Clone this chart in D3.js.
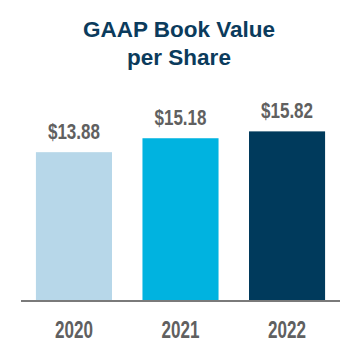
<!DOCTYPE html>
<html><head><meta charset="utf-8">
<script src="https://cdn.jsdelivr.net/npm/d3@7"></script>
<style>html,body{margin:0;padding:0;background:#fff;}</style>
</head><body>
<svg id="chart" width="360" height="360"></svg>
<script>
const titleLines = ["GAAP Book Value", "per Share"];
const years = ["2020", "2021", "2022"];
const values = [13.88, 15.18, 15.82];
const colors = ["#b7d7e9", "#00b3e0", "#003a5c"];

const svg = d3.select("#chart");
const baseY = 301, topY = 108;
const x = d3.scaleBand().domain(years).range([21, 340]).paddingInner(0.286).paddingOuter(0.14);
const y = d3.scaleLinear().domain([0, 18]).range([baseY, topY]);

svg.append("g").selectAll("text").data(titleLines).join("text")
  .attr("x", 179).attr("y", (d, i) => 37 + i * 28)
  .attr("text-anchor", "middle")
  .attr("font-family", "'Liberation Sans', Arial, sans-serif")
  .attr("font-weight", "bold").attr("font-size", 22.5)
  .attr("fill", "#0b3b5c").text(d => d);

const data = years.map((yr, i) => ({yr, v: values[i], c: colors[i]}));

svg.append("g").selectAll("rect").data(data).join("rect")
  .attr("x", d => x(d.yr)).attr("width", x.bandwidth())
  .attr("y", d => y(d.v)).attr("height", d => baseY - y(d.v))
  .attr("fill", d => d.c);

svg.append("g").selectAll("text").data(data).join("text")
  .attr("x", d => x(d.yr) + x.bandwidth() / 2).attr("y", d => y(d.v) - 13.5)
  .attr("text-anchor", "middle")
  .attr("font-family", "'Liberation Sans', Arial, sans-serif")
  .attr("font-weight", "bold").attr("font-size", 21.5)
  .attr("textLength", 52).attr("lengthAdjust", "spacingAndGlyphs")
  .attr("fill", "#606060").text(d => "$" + d3.format(".2f")(d.v));

const axis = d3.axisBottom(x).tickSize(0).tickPadding(0);
const ax = svg.append("g").attr("transform", `translate(0,${baseY})`).call(axis);
ax.select(".domain").attr("d", "M21,0H340").attr("stroke", "#7a7a7a").attr("stroke-width", 2);
ax.selectAll(".tick text")
  .attr("y", 36.5).attr("dy", 0)
  .attr("font-family", "'Liberation Sans', Arial, sans-serif")
  .attr("font-weight", "bold").attr("font-size", 23)
  .attr("textLength", 38).attr("lengthAdjust", "spacingAndGlyphs")
  .attr("fill", "#606060");
</script>
</body></html>
